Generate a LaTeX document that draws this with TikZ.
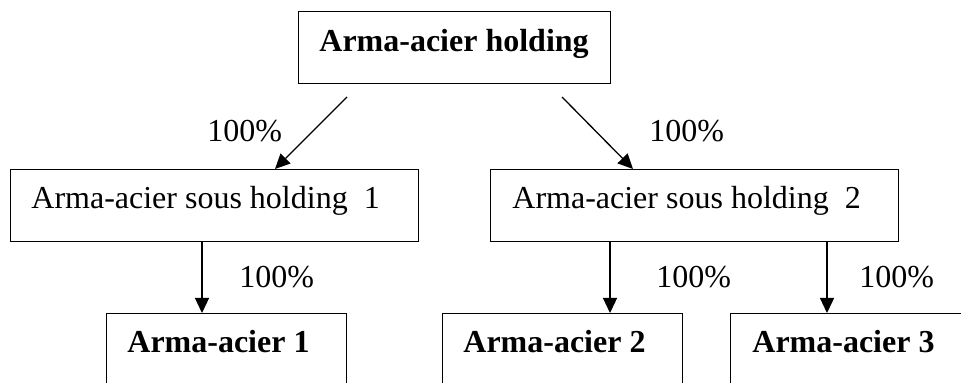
\documentclass[tikz,border=0pt]{standalone}
\usepackage{fontspec}
\setmainfont{Liberation Serif}
\usetikzlibrary{arrows.meta}
\begin{document}
\begin{tikzpicture}[x=0.5pt,y=-0.5pt,
  box/.style={draw, line width=0.65pt, rectangle, inner sep=0pt, anchor=north west},
  txt/.style={anchor=base west, inner sep=0pt, font=\fontsize{16pt}{19pt}\selectfont},
  btxt/.style={txt, font=\fontsize{16pt}{19pt}\selectfont\bfseries},
  arr/.style={line width=0.65pt, -{Triangle[length=7.5pt,width=7pt]}}]
\useasboundingbox (0,0) rectangle (961,383);
\clip (0,0) rectangle (961,383);
% boxes
\node[box, minimum width=156pt, minimum height=36pt] (top) at (298,11) {};
\node[box, minimum width=204pt, minimum height=36pt] (sub1) at (10,169) {};
\node[box, minimum width=204pt, minimum height=36pt] (sub2) at (490,169) {};
\node[box, minimum width=120pt, minimum height=60pt] (b1) at (106,313) {};
\node[box, minimum width=120pt, minimum height=60pt] (b2) at (442,313) {};
\node[box, minimum width=120pt, minimum height=60pt] (b3) at (730,313) {};
% texts
\node[btxt] (ttop) at ([shift={(21,41)}]top.north west) {Arma-acier holding};
\node[txt] (tsub1) at ([shift={(21,40)}]sub1.north west) {Arma-acier sous holding\ \ 1};
\node[txt] (tsub2) at ([shift={(22,40)}]sub2.north west) {Arma-acier sous holding\ \ 2};
\node[btxt] (tb1) at ([shift={(21,40)}]b1.north west) {Arma-acier 1};
\node[btxt] (tb2) at ([shift={(21,40)}]b2.north west) {Arma-acier 2};
\node[btxt] (tb3) at ([shift={(22,40)}]b3.north west) {Arma-acier 3};
% percentage labels
\node[txt] (p1) at (207,142) {100\%};
\node[txt] (p2) at (649,142) {100\%};
\node[txt] (p3) at (239,288) {100\%};
\node[txt] (p4) at (656,288) {100\%};
\node[txt] (p5) at (859,288) {100\%};
% connectors
\coordinate (s1) at (347,97);
\coordinate (s2) at (562,97);
\draw[arr] (s1) -- ([shift={(265,0)}]sub1.north west);
\draw[arr] (s2) -- ([shift={(143,0)}]sub2.north west);
\draw[arr] ([shift={(192,0)}]sub1.south west) -- ([shift={(96,0)}]b1.north west);
\draw[arr] ([shift={(120,0)}]sub2.south west) -- ([shift={(168,0)}]b2.north west);
\draw[arr] ([shift={(337,0)}]sub2.south west) -- ([shift={(97,0)}]b3.north west);
\end{tikzpicture}
\end{document}
